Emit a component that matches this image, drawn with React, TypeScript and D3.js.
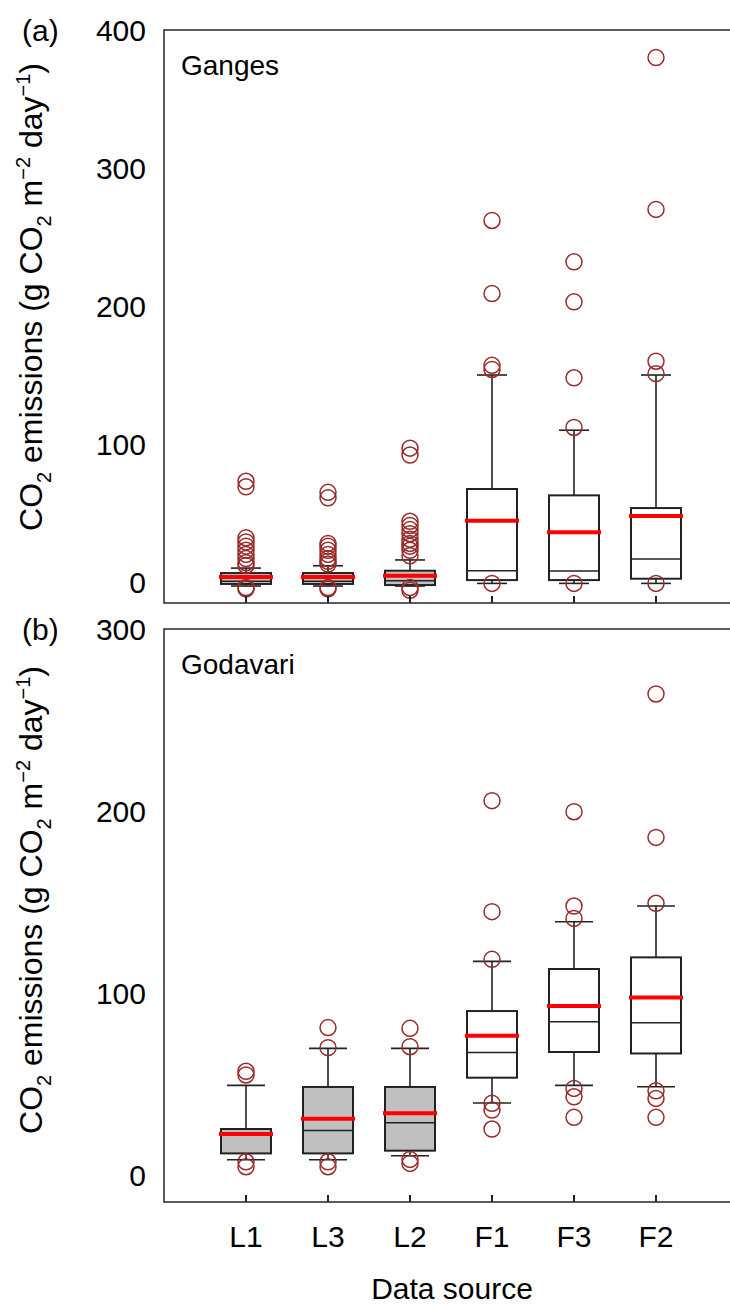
import React from "react";
import * as d3 from "d3";

// categories along the x axis
const categories = ["L1", "L3", "L2", "F1", "F3", "F2"];
const filled = [true, true, true, false, false, false];

// (a) Ganges
const gangesQ1 = [-1.4, -1.4, -2.2, 1.4, 1.4, 2.4];
const gangesMedian = [0.5, 0.5, 1, 8.2, 8, 16.7];
const gangesQ3 = [6.5, 6.5, 8.2, 67.4, 62.8, 53.6];
const gangesMean = [3.6, 3.6, 4.6, 44.4, 36, 47.8];
const gangesLow = [-2.9, -2.9, -2.9, -1, -1, -1];
const gangesHigh = [10.1, 11.8, 16, 150, 110, 150];
const gangesOutliers = [
  [73, 69, 32, 29, 26, 23, 20, 17, 14, 12, -4, -5],
  [65, 61, 28, 26, 23, 20, 17, 15, 13, -4, -5],
  [97, 92, 44, 41, 38, 35, 31, 28, 26, 23, 19, -4, -6],
  [262, 209, 157, 154, -1],
  [232, 203, 148, 112, -1],
  [380, 270, 160, 151, -1],
];
const gangesTicks = [0, 100, 200, 300, 400];

// (b) Godavari
const godavariQ1 = [11.9, 11.9, 13.4, 53.5, 67.6, 66.8];
const godavariMedian = [23, 24.5, 28.8, 67.4, 84.2, 83.7];
const godavariQ3 = [25.3, 48.4, 48.4, 90.1, 113.2, 119.6];
const godavariMean = [22.5, 31, 33.9, 76.5, 92.9, 97.6];
const godavariLow = [8.4, 8.4, 10.6, 39.6, 49.3, 48.5];
const godavariHigh = [49.3, 69.6, 69.6, 117.4, 139.2, 147.8];
const godavariOutliers = [
  [57, 55, 7.3, 4.6],
  [81, 70, 7.3, 4.6],
  [80.6, 70.5, 8.6, 6.4],
  [205.7, 144.7, 118.5, 39.4, 35.7, 25.3],
  [199.6, 147.8, 141, 47.6, 43, 31.7],
  [264.3, 185.5, 149.3, 46.3, 42.1, 31.7],
];
const godavariTicks = [0, 100, 200, 300];

const font = "'Liberation Sans', Arial, sans-serif";
const left = 164;
const right = 738;

const x = d3.scalePoint<string>().domain(categories).range([left, right]).padding(1);

const YLabel = ({ cx, cy }: { cx: number; cy: number }) => (
  <text
    transform={`translate(${cx},${cy}) rotate(-90)`}
    textAnchor="middle"
    fontSize={32}
    fontFamily={font}
  >
    CO<tspan dy={9} fontSize={20}>2</tspan>
    <tspan dy={-9}> emissions (g CO</tspan>
    <tspan dy={9} fontSize={20}>2</tspan>
    <tspan dy={-9}> m</tspan>
    <tspan dy={-12} fontSize={20}>−2</tspan>
    <tspan dy={12}> day</tspan>
    <tspan dy={-12} fontSize={20}>−1</tspan>
    <tspan dy={12}>)</tspan>
  </text>
);

interface PanelProps {
  top: number;
  bottom: number;
  domain: [number, number];
  ticks: number[];
  q1: number[];
  median: number[];
  q3: number[];
  mean: number[];
  low: number[];
  high: number[];
  outliers: number[][];
  name: string;
  letter: string;
  capW: number;
}

const Panel: React.FC<PanelProps> = (p) => {
  const y = d3.scaleLinear().domain(p.domain).range([p.bottom, p.top]);
  const boxW = 50;
  return (
    <g>
      {categories.map((c, i) => {
        const cx = x(c) as number;
        return (
          <g key={c}>
            <line x1={cx} x2={cx} y1={y(p.q3[i])} y2={y(p.high[i])} stroke="#222" strokeWidth={1.6} />
            <line x1={cx} x2={cx} y1={y(p.q1[i])} y2={y(p.low[i])} stroke="#222" strokeWidth={1.6} />
            <line x1={cx - p.capW / 2} x2={cx + p.capW / 2} y1={y(p.high[i])} y2={y(p.high[i])} stroke="#222" strokeWidth={1.6} />
            <line x1={cx - p.capW / 2} x2={cx + p.capW / 2} y1={y(p.low[i])} y2={y(p.low[i])} stroke="#222" strokeWidth={1.6} />
            <rect
              x={cx - boxW / 2}
              y={y(p.q3[i])}
              width={boxW}
              height={y(p.q1[i]) - y(p.q3[i])}
              fill={filled[i] ? "#c0c0c0" : "#fff"}
              stroke="#222"
              strokeWidth={2}
            />
            <line x1={cx - boxW / 2} x2={cx + boxW / 2} y1={y(p.median[i])} y2={y(p.median[i])} stroke="#222" strokeWidth={1.5} />
            <line x1={cx - boxW / 2 - 2} x2={cx + boxW / 2 + 2} y1={y(p.mean[i])} y2={y(p.mean[i])} stroke="#ff0000" strokeWidth={4} />
            {p.outliers[i].map((v, j) => (
              <circle key={j} cx={cx} cy={y(v)} r={8} fill="none" stroke="#992a2a" strokeWidth={1.5} />
            ))}
            <line x1={cx} x2={cx} y1={p.bottom} y2={p.bottom - 7} stroke="#222" strokeWidth={2} />
          </g>
        );
      })}
      <rect x={left} y={p.top} width={right + 20 - left} height={p.bottom - p.top} fill="none" stroke="#333" strokeWidth={1.6} />
      {p.ticks.map((t) => (
        <text key={t} x={146} y={y(t)} dy="0.36em" textAnchor="end" fontSize={30} fontFamily={font}>
          {t}
        </text>
      ))}
      <text x={22} y={p.top} dy="0.36em" fontSize={30} fontFamily={font}>
        {p.letter}
      </text>
      <text x={181} y={p.top + 45} fontSize={28} fontFamily={font}>
        {p.name}
      </text>
    </g>
  );
};

export default function App() {
  return (
    <svg width={730} height={1308} style={{ position: "absolute", left: 0, top: 0, background: "#fff" }}>
      <rect width={730} height={1308} fill="#fff" />
      <Panel
        top={30}
        bottom={603}
        domain={[-15.2, 400]}
        ticks={gangesTicks}
        q1={gangesQ1}
        median={gangesMedian}
        q3={gangesQ3}
        mean={gangesMean}
        low={gangesLow}
        high={gangesHigh}
        outliers={gangesOutliers}
        name="Ganges"
        letter="(a)"
        capW={30}
      />
      <Panel
        top={629}
        bottom={1202}
        domain={[-14.8, 300]}
        ticks={godavariTicks}
        q1={godavariQ1}
        median={godavariMedian}
        q3={godavariQ3}
        mean={godavariMean}
        low={godavariLow}
        high={godavariHigh}
        outliers={godavariOutliers}
        name="Godavari"
        letter="(b)"
        capW={38}
      />
      <YLabel cx={42} cy={297} />
      <YLabel cx={42} cy={900} />
      {categories.map((c) => (
        <text key={c} x={x(c) as number} y={1247} textAnchor="middle" fontSize={30} fontFamily={font}>
          {c}
        </text>
      ))}
      <text x={452} y={1299} textAnchor="middle" fontSize={30} fontFamily={font}>
        Data source
      </text>
    </svg>
  );
}
